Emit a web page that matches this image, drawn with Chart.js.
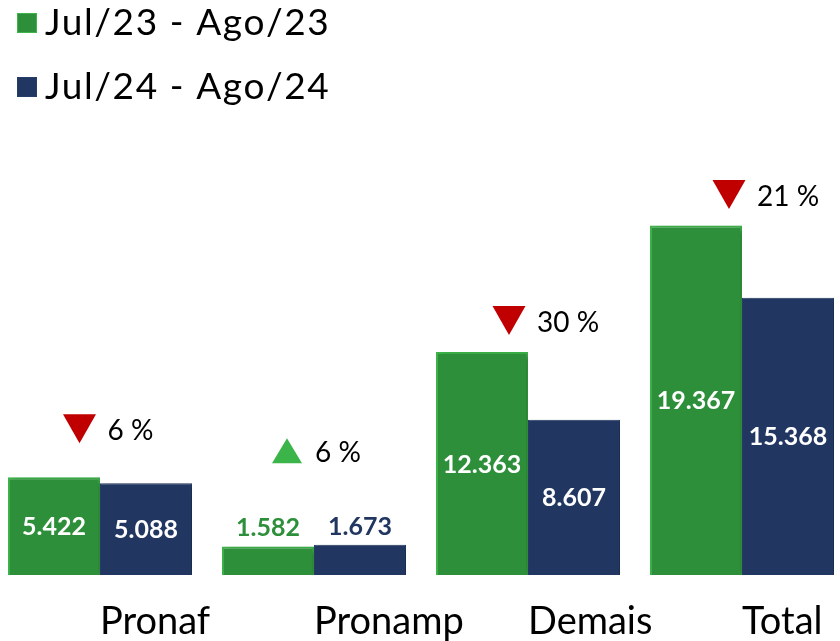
<!DOCTYPE html>
<html><head><meta charset="utf-8">
<script src="https://cdn.jsdelivr.net/npm/chart.js@4.4.1/dist/chart.umd.min.js"></script>
<style>
html,body{margin:0;padding:0;background:#fff;overflow:hidden;width:840px;height:641px;}
#wrap{position:absolute;left:-7px;top:0;width:856px;height:641px;}
</style></head><body>
<div id="wrap"><canvas id="c"></canvas></div>
<script>
// ---- data ----
const categories = ['Pronaf', 'Pronamp', 'Demais', 'Total'];
const seriesNames = ['Jul/23 - Ago/23', 'Jul/24 - Ago/24'];
const values2023 = [5422, 1582, 12363, 19367];
const values2024 = [5088, 1673, 8607, 15368];
const changeLabels = ['6 %', '6 %', '30 %', '21 %'];
const changeDirections = ['down', 'up', 'down', 'down'];

const GREEN = '#2d8f3a', GREEN_BORDER = '#3db54a', BLUE = '#213761', BLUE_BORDER = '#263d68';
const fmt = v => v.toLocaleString('pt-BR');

const barShadow = {
  id: 'barShadow',
  beforeDatasetsDraw(chart) {
    const c = chart.ctx; c.save();
    c.shadowColor = 'rgba(0,0,0,0.30)'; c.shadowBlur = 6; c.shadowOffsetX = 4; c.shadowOffsetY = 2;
  },
  afterDatasetsDraw(chart) { chart.ctx.restore(); }
};

const valueLabels = {
  id: 'valueLabels',
  afterDatasetsDraw(chart) {
    const ctx = chart.ctx;
    chart.data.datasets.forEach((ds, i) => {
      chart.getDatasetMeta(i).data.forEach((bar, j) => {
        const txt = fmt(ds.data[j]);
        const h = bar.base - bar.y;
        ctx.save();
        ctx.font = '700 25px Lato';
        ctx.textAlign = 'center';
        if (h > 60) {
          ctx.fillStyle = '#ffffff'; ctx.textBaseline = 'middle';
          ctx.fillText(txt, bar.x, (bar.y + bar.base) / 2 + 1);
        } else {
          ctx.fillStyle = ds.backgroundColor; ctx.textBaseline = 'alphabetic';
          ctx.fillText(txt, bar.x, bar.y - 10);
        }
        ctx.restore();
      });
    });
  }
};

const changeIndicators = {
  id: 'changeIndicators',
  afterDatasetsDraw(chart, args, opts) {
    const ctx = chart.ctx, xs = chart.scales.x, ys = chart.scales.y;
    categories.forEach((c, i) => {
      const top = ys.getPixelForValue(Math.max(values2023[i], values2024[i]));
      const cx = xs.getPixelForValue(i) + opts.dx[i];
      const cy = top - opts.dy[i];
      const down = changeDirections[i] === 'down';
      ctx.save();
      ctx.beginPath();
      if (down) { ctx.moveTo(cx - 16.5, cy - 14.5); ctx.lineTo(cx + 16.5, cy - 14.5); ctx.lineTo(cx, cy + 14.5); }
      else { ctx.moveTo(cx - 15, cy + 12.5); ctx.lineTo(cx + 15, cy + 12.5); ctx.lineTo(cx, cy - 12.5); }
      ctx.closePath();
      ctx.fillStyle = down ? '#c00000' : '#3bb54a';
      ctx.fill();
      ctx.font = '400 28px Lato'; ctx.fillStyle = '#000'; ctx.textBaseline = 'middle'; ctx.textAlign = 'left';
      ctx.fillText(changeLabels[i], cx + 28, cy + 2);
      ctx.restore();
    });
  }
};

const sideLegend = {
  id: 'sideLegend',
  afterDraw(chart, args, opts) {
    const ctx = chart.ctx;
    chart.data.datasets.forEach((ds, i) => {
      const yTop = opts.top + i * opts.rowGap;
      ctx.save();
      ctx.fillStyle = ds.borderColor; ctx.fillRect(opts.left, yTop, 20, 20);
      ctx.fillStyle = ds.backgroundColor; ctx.fillRect(opts.left + 1, yTop + 1, 18, 18);
      ctx.font = '400 37px Lato'; ctx.fillStyle = '#000'; ctx.textBaseline = 'alphabetic'; ctx.textAlign = 'left';
      if ('letterSpacing' in ctx) ctx.letterSpacing = '1.6px';
      ctx.fillText(ds.label, opts.left + 28, yTop + 22);
      ctx.restore();
    });
  }
};

new Chart(document.getElementById('c'), {
  type: 'bar',
  data: {
    labels: categories,
    datasets: [
      { label: seriesNames[0], data: values2023, backgroundColor: GREEN, borderColor: GREEN_BORDER, borderWidth: 2 },
      { label: seriesNames[1], data: values2024, backgroundColor: BLUE, borderColor: BLUE_BORDER, borderWidth: 1 }
    ]
  },
  options: {
    responsive: true, maintainAspectRatio: false, devicePixelRatio: 1, animation: false,
    layout: { padding: { top: 124, left: 0, right: 0, bottom: 0 } },
    datasets: { bar: { categoryPercentage: 0.86, barPercentage: 1 } },
    scales: {
      x: {
        grid: { display: false }, border: { display: false },
        ticks: { align: 'start', color: '#000', padding: 16, font: { family: 'Lato', size: 38 } },
        afterFit(s) { s.height = 66; }
      },
      y: { display: false, min: 0, max: 25000 }
    },
    plugins: {
      legend: { display: false }, tooltip: { enabled: false },
      changeIndicators: { dx: [-20.5, -27, -19, -13], dy: [48.5, 94, 31.5, 31] },
      sideLegend: { left: 24, top: 13, rowGap: 64 }
    }
  },
  plugins: [barShadow, valueLabels, changeIndicators, sideLegend]
});
</script>
</body></html>
